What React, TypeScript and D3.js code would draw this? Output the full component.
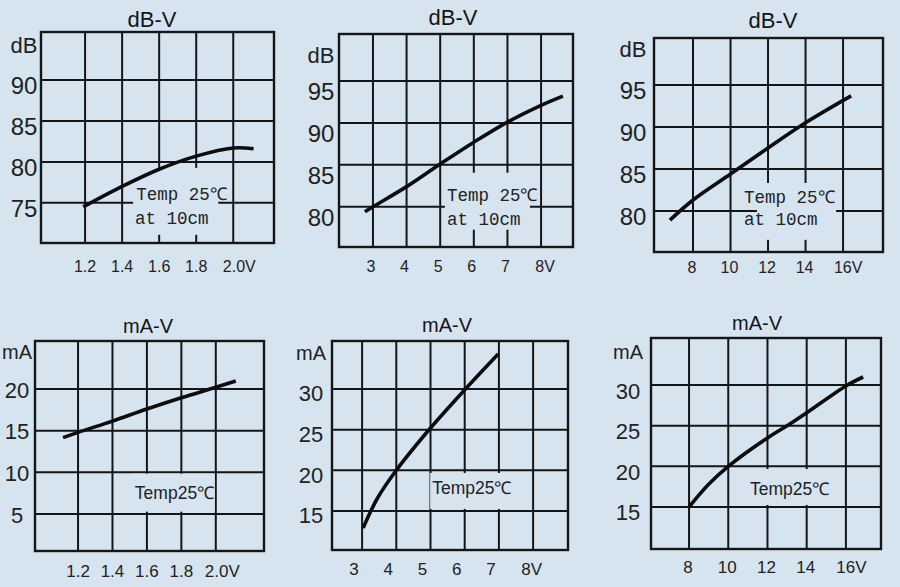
import React from "react";
import * as d3 from "d3";

// ---------- data ----------
const p1Volts = [1.19, 1.4, 1.6, 1.8, 2.0, 2.11];
const p1dB = [74.5, 77.0, 79.1, 80.7, 81.7, 81.6];
const p1XTicks = [1.2, 1.4, 1.6, 1.8, 2.0];
const p1XLabels = ["1.2", "1.4", "1.6", "1.8", "2.0V"];
const p1YTicks = [75, 80, 85, 90];

const p2Volts = [2.76, 3, 4, 5, 6, 7, 8, 8.65];
const p2dB = [79.4, 80.0, 82.4, 85.1, 87.7, 90.1, 92.1, 93.2];
const p2XTicks = [3, 4, 5, 6, 7, 8];
const p2XLabels = ["3", "4", "5", "6", "7", "8V"];
const p2YTicks = [80, 85, 90, 95];

const p3Volts = [6.77, 8, 10, 12, 14, 16.43];
const p3dB = [78.9, 81.3, 84.4, 87.5, 90.5, 93.7];
const p3XTicks = [8, 10, 12, 14, 16];
const p3XLabels = ["8", "10", "12", "14", "16V"];
const p3YTicks = [80, 85, 90, 95];

const p4Volts = [1.113, 1.2, 1.4, 1.6, 1.8, 2.0, 2.116];
const p4mA = [14.16, 14.8, 16.15, 17.6, 18.95, 20.2, 20.96];
const p4XTicks = [1.2, 1.4, 1.6, 1.8, 2.0];
const p4XLabels = ["1.2", "1.4", "1.6", "1.8", "2.0V"];
const p4YTicks = [5, 10, 15, 20];

const p5Volts = [3.03, 3.44, 4, 5, 6, 6.98];
const p5mA = [12.9, 16.5, 20.0, 25.2, 29.9, 34.3];
const p5XTicks = [3, 4, 5, 6, 7, 8];
const p5XLabels = ["3", "4", "5", "6", "7", "8V"];
const p5YTicks = [15, 20, 25, 30];

const p6Volts = [8, 9, 10, 12, 13, 14, 16, 16.88];
const p6mA = [15, 17.8, 20.0, 23.5, 25.0, 26.6, 29.9, 31.0];
const p6XTicks = [8, 10, 12, 14, 16];
const p6XLabels = ["8", "10", "12", "14", "16V"];
const p6YTicks = [15, 20, 25, 30];

const noteTop = ["Temp 25\u2103", "at 10cm"];
const noteBottom = ["Temp25\u2103"];

// ---------- style ----------
const BG = "#d6e4f0";
const INK = "#151515";
const SANS = "'Liberation Sans', Arial, sans-serif";
const MONO = "'Liberation Mono', 'DejaVu Sans Mono', monospace";

type PanelDef = {
  title: string;
  unit: string;
  xs: number[];
  ys: number[];
  xTicks: number[];
  xLabels: string[];
  yTicks: number[];
  xDomain: [number, number];
  yDomain: [number, number];
  frame: [number, number, number, number]; // x0, x1, y0, y1
  titleX: number;
  titleY: number;
  titleSize: number;
  labelX: number;
  yLabelSize: number;
  yLabelDy: number;
  unitY: number;
  unitSize: number;
  xLabelY: number;
  xLabelDx: number;
  xLabelSize: number;
  note: string[];
  noteFont: string;
  noteSize: number;
  noteAt: [number, number][];
  noteBox: [number, number, number, number]; // data: x1, x2, yTop, yBottom
};

const panels: PanelDef[] = [
  {
    title: "dB-V", unit: "dB", xs: p1Volts, ys: p1dB, xTicks: p1XTicks, xLabels: p1XLabels, yTicks: p1YTicks,
    xDomain: [0.962, 2.22], yDomain: [70.1, 95.85], frame: [41, 274, 32, 243],
    titleX: 152, titleY: 27, titleSize: 22, labelX: 24, yLabelSize: 24, yLabelDy: 6, unitY: 45, unitSize: 22,
    xLabelY: 272, xLabelDx: 0, xLabelSize: 16,
    note: noteTop, noteFont: MONO, noteSize: 17.5, noteAt: [[1.476, 75.37], [1.47, 72.44]], noteBox: [1.459, 1.919, 79.27, 71.1],
  },
  {
    title: "dB-V", unit: "dB", xs: p2Volts, ys: p2dB, xTicks: p2XTicks, xLabels: p2XLabels, yTicks: p2YTicks,
    xDomain: [1.99, 8.95], yDomain: [75.2, 100.6], frame: [339, 573, 34, 247],
    titleX: 453, titleY: 25, titleSize: 22, labelX: 321, yLabelSize: 24, yLabelDy: 11, unitY: 55, unitSize: 22,
    xLabelY: 272, xLabelDx: -2, xLabelSize: 16,
    note: noteTop, noteFont: MONO, noteSize: 17.5, noteAt: [[5.2, 80.71], [5.2, 77.86]], noteBox: [5.14, 7.67, 84.05, 77.26],
  },
  {
    title: "dB-V", unit: "dB", xs: p3Volts, ys: p3dB, xTicks: p3XTicks, xLabels: p3XLabels, yTicks: p3YTicks,
    xDomain: [5.92, 18.13], yDomain: [75.1, 100.6], frame: [654, 883, 38, 252],
    titleX: 773, titleY: 28, titleSize: 22, labelX: 633, yLabelSize: 24, yLabelDy: 6, unitY: 49, unitSize: 22,
    xLabelY: 273, xLabelDx: -1, xLabelSize: 16,
    note: noteTop, noteFont: MONO, noteSize: 17.5, noteAt: [[10.72, 80.95], [10.72, 78.33]], noteBox: [11.41, 15.63, 83.33, 76.55],
  },
  {
    title: "mA-V", unit: "mA", xs: p4Volts, ys: p4mA, xTicks: p4XTicks, xLabels: p4XLabels, yTicks: p4YTicks,
    xDomain: [0.95, 2.28], yDomain: [0.56, 25.76], frame: [35, 264, 341, 551],
    titleX: 148, titleY: 333, titleSize: 20, labelX: 17, yLabelSize: 22, yLabelDy: 1, unitY: 352, unitSize: 20,
    xLabelY: 577, xLabelDx: 0, xLabelSize: 17,
    note: noteBottom, noteFont: SANS, noteSize: 17.5, noteAt: [[1.53, 6.84]], noteBox: [1.519, 1.994, 9.84, 5.28],
  },
  {
    title: "mA-V", unit: "mA", xs: p5Volts, ys: p5mA, xTicks: p5XTicks, xLabels: p5XLabels, yTicks: p5YTicks,
    xDomain: [2.12, 9.02], yDomain: [10.2, 35.9], frame: [332, 568, 341, 550],
    titleX: 447, titleY: 332, titleSize: 20, labelX: 311, yLabelSize: 22, yLabelDy: 5, unitY: 353, unitSize: 20,
    xLabelY: 575, xLabelDx: -8, xLabelSize: 17,
    note: noteBottom, noteFont: SANS, noteSize: 17.5, noteAt: [[5.05, 17.09]], noteBox: [4.99, 7.33, 19.67, 15.25],
  },
  {
    title: "mA-V", unit: "mA", xs: p6Volts, ys: p6mA, xTicks: p6XTicks, xLabels: p6XLabels, yTicks: p6YTicks,
    xDomain: [6.06, 17.79], yDomain: [9.83, 35.8], frame: [651, 881, 338, 549],
    titleX: 757, titleY: 330, titleSize: 20, labelX: 628, yLabelSize: 22, yLabelDy: 6, unitY: 352, unitSize: 20,
    xLabelY: 573, xLabelDx: -1, xLabelSize: 17,
    note: noteBottom, noteFont: SANS, noteSize: 17.5, noteAt: [[11.11, 16.48]], noteBox: [11.01, 15.19, 19.67, 15.25],
  },
];

function Panel({ p }: { p: PanelDef }) {
  const [x0, x1, y0, y1] = p.frame;
  const x = d3.scaleLinear().domain(p.xDomain).range([x0, x1]);
  const y = d3.scaleLinear().domain(p.yDomain).range([y1, y0]);
  const pts: [number, number][] = p.xs.map((v, i) => [v, p.ys[i]]);
  const line = d3
    .line<[number, number]>()
    .x((d) => x(d[0]))
    .y((d) => y(d[1]))
    .curve(d3.curveCatmullRom.alpha(0.5));
  const [bx1, bx2, byT, byB] = p.noteBox;
  return (
    <g>
      <text x={p.titleX} y={p.titleY} textAnchor="middle" fontFamily={SANS} fontSize={p.titleSize} fill={INK}>
        {p.title}
      </text>
      {/* grid */}
      {p.xTicks.map((t) => (
        <line key={"v" + t} x1={x(t)} x2={x(t)} y1={y0} y2={y1} stroke={INK} strokeWidth={2} />
      ))}
      {p.yTicks.map((t) => (
        <line key={"h" + t} x1={x0} x2={x1} y1={y(t)} y2={y(t)} stroke={INK} strokeWidth={2} />
      ))}
      <rect x={x0} y={y0} width={x1 - x0} height={y1 - y0} fill="none" stroke={INK} strokeWidth={2.4} />
      {/* note box */}
      <rect x={x(bx1)} y={y(byT)} width={x(bx2) - x(bx1)} height={y(byB) - y(byT)} fill={BG} />
      {p.note.map((s, i) => (
        <text key={"n" + i} x={x(p.noteAt[i][0])} y={y(p.noteAt[i][1])} fontFamily={p.noteFont} fontSize={p.noteSize} fill="#222">
          {s}
        </text>
      ))}
      {/* curve */}
      <path d={line(pts) || ""} fill="none" stroke="#0d0d0d" strokeWidth={3.6} strokeLinecap="butt" />
      {/* y labels */}
      <text x={p.labelX} y={p.unitY} textAnchor="middle" dominantBaseline="central" fontFamily={SANS} fontSize={p.unitSize} fill="#222">
        {p.unit}
      </text>
      {p.yTicks.map((t) => (
        <text key={"yl" + t} x={p.labelX} y={y(t) + p.yLabelDy} textAnchor="middle" dominantBaseline="central" fontFamily={SANS} fontSize={p.yLabelSize} fill="#222">
          {t}
        </text>
      ))}
      {/* x labels */}
      {p.xTicks.map((t, i) => {
        const lbl = p.xLabels[i];
        const hasV = lbl.endsWith("V");
        return (
          <text key={"xl" + t} x={x(t) + p.xLabelDx + (hasV ? p.xLabelSize * 0.38 : 0)} y={p.xLabelY} textAnchor="middle" fontFamily={SANS} fontSize={p.xLabelSize} fill="#222">
            {lbl}
          </text>
        );
      })}
    </g>
  );
}

export default function App() {
  return (
    <div style={{ position: "absolute", left: 0, top: 0 }}>
      <svg width={900} height={587} viewBox="0 0 900 587" style={{ display: "block" }}>
        <rect x={0} y={0} width={900} height={587} fill={BG} />
        {panels.map((p, i) => (
          <Panel key={i} p={p} />
        ))}
      </svg>
    </div>
  );
}
